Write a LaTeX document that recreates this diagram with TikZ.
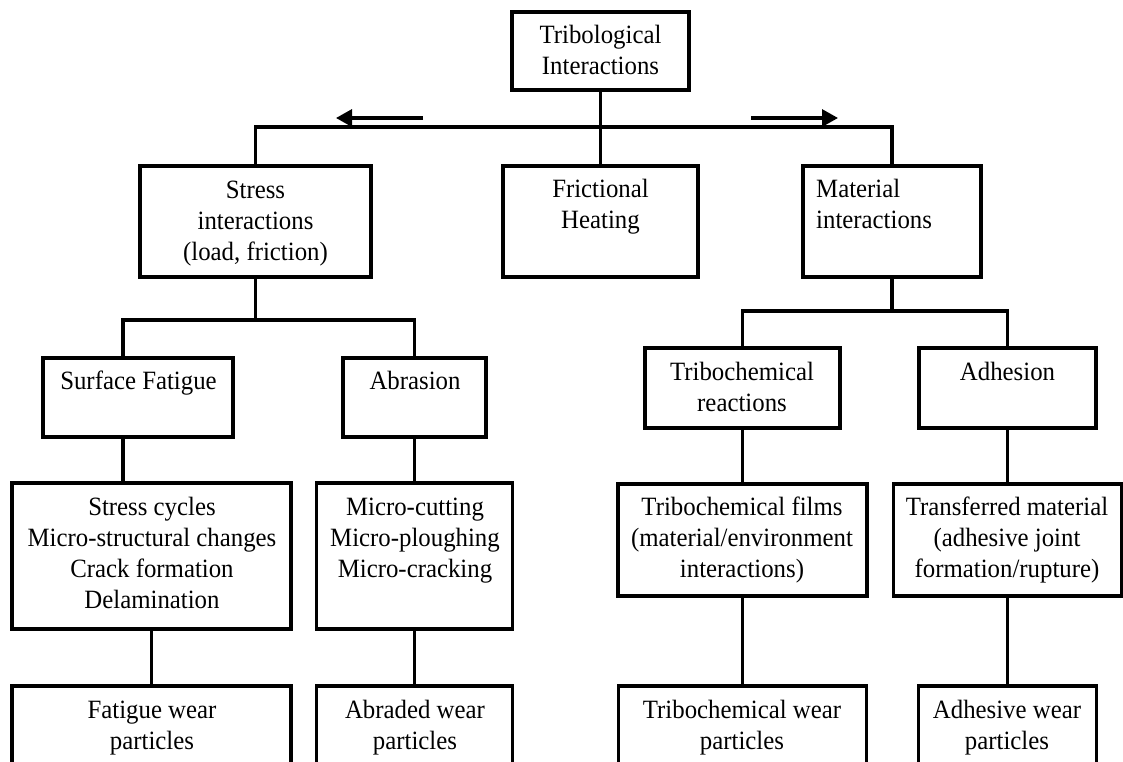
\documentclass[tikz,border=0pt]{standalone}
\usepackage{fontspec}
\setmainfont[FakeStretch=0.94]{Liberation Serif}
\usetikzlibrary{arrows.meta}
\tikzset{
  box/.style={draw, line width=3.1pt, rectangle, inner sep=0pt},
  lbl/.style={inner sep=0pt, align=center, font=\fontsize{26.4}{31}\selectfont},
  conn/.style={line width=3.1pt},
  dirarrow/.style={line width=3.1pt, -{Triangle[length=16pt,width=17pt]}}
}
\begin{document}
\begin{tikzpicture}[x=1pt,y=-1pt]
\useasboundingbox (0,0) rectangle (1123,762);
\fill[white] (0,0) rectangle (1123,762);
\clip (0,0) rectangle (1123,762);

% boxes
\node[box, minimum width=177pt, minimum height=78pt]  (tri)    at (600.5,51) {};
\node[box, minimum width=231pt, minimum height=111pt] (stress) at (255.5,221.5) {};
\node[box, minimum width=195pt, minimum height=111pt] (fric)   at (600.5,221.5) {};
\node[box, minimum width=178pt, minimum height=111pt] (mat)    at (892,221.5) {};
\node[box, minimum width=190pt, minimum height=79pt]  (sf)     at (138,397.5) {};
\node[box, minimum width=143pt, minimum height=79pt]  (ab)     at (414.5,397.5) {};
\node[box, minimum width=279pt, minimum height=146pt] (sc)     at (151.5,556) {};
\node[box, minimum width=196pt, minimum height=146pt] (mc)     at (414.5,556) {};
\node[box, minimum width=279pt, minimum height=80pt]  (fw)     at (151.5,726) {};
\node[box, minimum width=196pt, minimum height=80pt]  (aw)     at (414.5,726) {};
\node[box, minimum width=195pt, minimum height=80pt]  (tr)     at (742.5,388) {};
\node[box, minimum width=177pt, minimum height=80pt]  (ad)     at (1007.5,388) {};
\node[box, minimum width=249pt, minimum height=112pt] (tf)     at (742.5,540) {};
\node[box, minimum width=228pt, minimum height=112pt] (tm)     at (1007.5,540) {};
\node[box, minimum width=248pt, minimum height=80pt]  (tw)     at (742.5,726) {};
\node[box, minimum width=178pt, minimum height=80pt]  (adw)    at (1007.5,726) {};

% texts
\node[lbl] (tTri)    at (600.5,53)    {\strut Tribological\\Interactions\strut};
\node[lbl] (tStress) at (255.5,223.3) {\strut Stress\\interactions\\(load, friction)\strut};
\node[lbl] (tFric)   at (600.5,206.8) {\strut Frictional\\Heating\strut};
\node[lbl, align=left, anchor=west] (tMat) at (816,206.8) {\strut Material\\interactions\strut};
\node[lbl] (tSf)     at (138.5,383.3) {\strut Surface Fatigue\strut};
\node[lbl] (tAb)     at (415,383.3)   {\strut Abrasion\strut};
\node[lbl] (tTr)     at (742,390.2)   {\strut Tribochemical\\reactions\strut};
\node[lbl] (tAd)     at (1007.5,374.7){\strut Adhesion\strut};
\node[lbl] (tSc)     at (152,555.5)   {\strut Stress cycles\\Micro-structural changes\\Crack formation\\Delamination\strut};
\node[lbl] (tMc)     at (415,540)     {\strut Micro-cutting\\Micro-ploughing\\Micro-cracking\strut};
\node[lbl] (tTf)     at (742,540)     {\strut Tribochemical films\\(material/environment\\interactions)\strut};
\node[lbl] (tTm)     at (1007,540)    {\strut Transferred material\\(adhesive joint\\formation/rupture)\strut};
\node[lbl] (tFw)     at (152,727.8)   {\strut Fatigue wear\\particles\strut};
\node[lbl] (tAw)     at (415,727.8)   {\strut Abraded wear\\particles\strut};
\node[lbl] (tTw)     at (742,727.8)   {\strut Tribochemical wear\\particles\strut};
\node[lbl] (tAdw)    at (1007,727.8)  {\strut Adhesive wear\\particles\strut};

% connectors
\coordinate (bus) at (600.5,127);
\draw[conn] (stress.north) |- (bus) -| (mat.north);
\draw[conn] (tri.south) -- (fric.north);

\coordinate (b1) at (255.5,320);
\coordinate (sfx) at (123,358);
\draw[conn] (stress.south) -- (b1);
\draw[conn] (sfx) |- (b1) -| (ab.north);
\draw[conn] (sf.south -| sfx) -- (sc.north -| sfx);
\draw[conn] (sc.south) -- (fw.north);
\draw[conn] (ab.south) -- (mc.north);
\draw[conn] (mc.south) -- (aw.north);

\coordinate (b2) at (892,311);
\draw[conn] (mat.south) -- (b2);
\draw[conn] (tr.north) |- (b2) -| (ad.north);
\draw[conn] (tr.south) -- (tf.north);
\draw[conn] (tf.south) -- (tw.north);
\draw[conn] (ad.south) -- (tm.north);
\draw[conn] (tm.south) -- (adw.north);

% direction arrows
\coordinate (la1) at (423,118);
\coordinate (la2) at (336,118);
\draw[dirarrow] (la1) -- (la2);
\coordinate (ra1) at (751,118);
\coordinate (ra2) at (838,118);
\draw[dirarrow] (ra1) -- (ra2);
\end{tikzpicture}
\end{document}
